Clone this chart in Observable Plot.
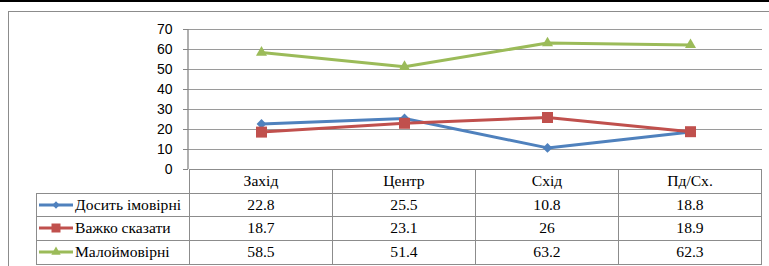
<!DOCTYPE html>
<html><head><meta charset="utf-8">
<script src="https://cdn.jsdelivr.net/npm/d3@7"></script>
<script src="https://cdn.jsdelivr.net/npm/@observablehq/plot@0.6"></script>
<style>
body{margin:0;background:#fff;}
#wrap{position:relative;width:769px;height:266px;overflow:hidden;background:#fff;}
#wrap > svg{position:absolute;left:0;top:0;}
.hl,.vl{position:absolute;background:#8c8c8c;}
.cell{position:absolute;display:flex;align-items:center;justify-content:center;font-size:15.6px;color:#000;white-space:nowrap;}
.lab{justify-content:flex-start;}
</style></head><body><div id="wrap"></div>
<script>
// ---- data ----
const categories = ["Захід", "Центр", "Схід", "Пд/Сх."];
const seriesNames = ["Досить імовірні", "Важко сказати", "Малоймовірні"];
const likelyValues = [22.8, 25.5, 10.8, 18.8];
const hardToSayValues = [18.7, 23.1, 26, 18.9];
const unlikelyValues = [58.5, 51.4, 63.2, 62.3];
const yTicks = [0, 10, 20, 30, 40, 50, 60, 70];

// ---- styles ----
const colors = ["#4F81BD", "#C0504D", "#9BBB59"];
const symbols = ["diamond2", "square", "triangle"];
const radii = [4.4, 6.2, 4.1];
const keySymbols = [d3.symbolDiamond2, d3.symbolSquare, d3.symbolTriangle];
const keySizes = [34, 81, 38];
const serifFont = "'Liberation Serif', 'DejaVu Serif', serif";

const seriesValues = [likelyValues, hardToSayValues, unlikelyValues];
const data = seriesNames.flatMap((s, i) =>
  categories.map((c, j) => ({series: s, cat: c, value: seriesValues[i][j]})));

const W = 769, H = 266;
const plotLeft = 188, plotRight = 762, plotTop = 29, plotBottom = 169;

const axisLine = (index, scales, values, dims) => {
  const l = document.createElementNS("http://www.w3.org/2000/svg", "line");
  l.setAttribute("x1", dims.marginLeft); l.setAttribute("x2", dims.marginLeft);
  l.setAttribute("y1", scales.y(70)); l.setAttribute("y2", scales.y(0));
  l.setAttribute("stroke", "#868686"); l.setAttribute("stroke-width", 1.3);
  return l;
};

const chart = Plot.plot({
  width: W, height: H,
  marginLeft: plotLeft, marginRight: W - plotRight, marginTop: plotTop, marginBottom: H - plotBottom,
  style: {fontFamily: "'Liberation Sans', Arial, sans-serif", fontSize: "14px", background: "transparent", color: "#000"},
  x: {type: "point", domain: categories, padding: 0.5, axis: null},
  y: {domain: [0, 70], axis: null},
  marks: [
    Plot.gridY(yTicks.filter(t => t > 0), {stroke: "#9a9a9a", strokeOpacity: 1, strokeWidth: 1.2}),
    Plot.axisY({ticks: yTicks, tickSize: 5, tickPadding: 11, stroke: "#868686", fill: "#000", fontSize: 14, label: null}),
    axisLine,
    ...seriesNames.map((s, i) => Plot.line(data.filter(d => d.series === s), {x: "cat", y: "value", stroke: colors[i], strokeWidth: 3})),
    ...seriesNames.map((s, i) => Plot.dot(data.filter(d => d.series === s), {x: "cat", y: "value", fill: colors[i], stroke: null, symbol: symbols[i], r: radii[i]}))
  ]
});

const wrap = document.getElementById("wrap");
// outer frame and top rule
const topRule = document.createElement("div");
topRule.style.cssText = "position:absolute;left:0;top:0;width:769px;height:1.5px;background:#000;";
wrap.appendChild(topRule);
const outerFrame = document.createElement("div");
outerFrame.style.cssText = "position:absolute;left:8px;top:11px;width:800px;height:300px;border:1px solid #8c8c8c;box-sizing:border-box;";
wrap.appendChild(outerFrame);
wrap.appendChild(chart);

// ---- data table ----
const xs = chart.scale("x");
const step = xs.apply(categories[1]) - xs.apply(categories[0]);
const edges = categories.map(c => xs.apply(c) - step / 2).concat([xs.apply(categories[categories.length - 1]) + step / 2]);
const tableLeft = 36;
const rowTops = [169, 193, 216.7, 240.3, 264];

function addLine(cls, x, y, w, h) {
  const d = document.createElement("div");
  d.className = cls;
  d.style.left = x + "px"; d.style.top = y + "px"; d.style.width = w + "px"; d.style.height = h + "px";
  wrap.appendChild(d);
}
addLine("hl", edges[0], rowTops[0] - 0.5, edges[4] - edges[0], 1.5);
for (let r = 1; r < rowTops.length; r++) addLine("hl", tableLeft, rowTops[r] - 0.5, edges[4] - tableLeft + 0.5, 1);
addLine("vl", tableLeft, rowTops[1] - 0.5, 1, rowTops[4] - rowTops[1] + 0.5);
edges.forEach((e, i) => addLine("vl", e - 0.5, rowTops[0], i === 0 ? 1.3 : 1, rowTops[4] - rowTops[0]));

function addCell(content, x, y, w, h, cls) {
  const d = document.createElement("div");
  d.className = "cell" + (cls ? " " + cls : "");
  d.style.left = x + "px"; d.style.top = y + "px"; d.style.width = w + "px"; d.style.height = h + "px";
  d.style.fontFamily = serifFont;
  if (typeof content === "string") d.textContent = content; else d.appendChild(content);
  wrap.appendChild(d);
  return d;
}
categories.forEach((c, j) => addCell(c, edges[j], rowTops[0], step, rowTops[1] - rowTops[0]));
seriesNames.forEach((s, i) => {
  const y0 = rowTops[i + 1], h = rowTops[i + 2] - y0;
  const span = document.createElement("span");
  span.style.cssText = "display:flex;align-items:center;";
  const svg = d3.create("svg").attr("width", 37).attr("height", 14).style("margin-right", "1px");
  svg.append("line").attr("x1", 2).attr("x2", 36).attr("y1", 7).attr("y2", 7).attr("stroke", colors[i]).attr("stroke-width", 3);
  svg.append("path").attr("transform", "translate(19,7)").attr("d", d3.symbol(keySymbols[i], keySizes[i])()).attr("fill", colors[i]);
  span.appendChild(svg.node());
  const t = document.createElement("span"); t.textContent = s; t.style.fontFamily = serifFont; span.appendChild(t);
  addCell(span, tableLeft + 1, y0, edges[0] - tableLeft - 1, h, "lab");
  seriesValues[i].forEach((v, j) => addCell(String(v), edges[j], y0, step, h));
});
</script></body></html>
